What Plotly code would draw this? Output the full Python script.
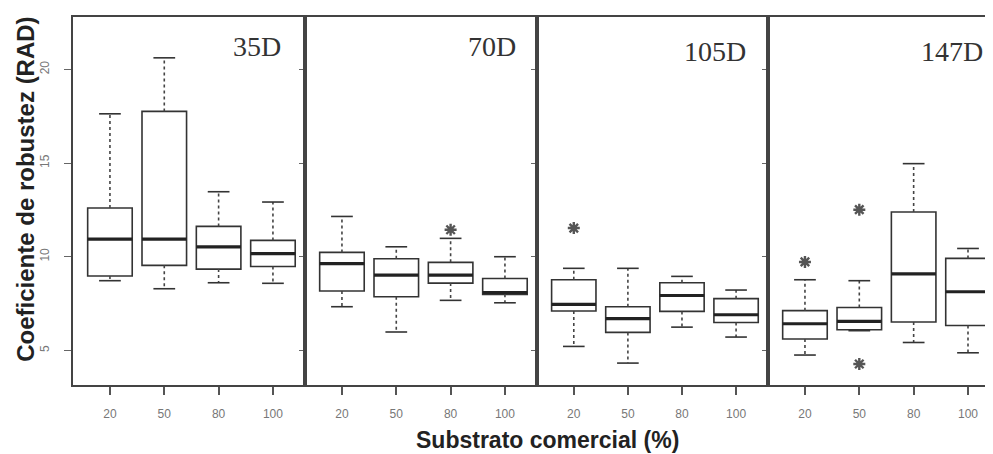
import plotly.graph_objects as go
from plotly.subplots import make_subplots

# ---------------- data ----------------
panels = ["35D", "70D", "105D", "147D"]
categories = ["20", "50", "80", "100"]
positions = [1, 2, 3, 4]

q1 = {
    "35D": [8.97, 9.54, 9.34, 9.48],
    "70D": [8.17, 7.86, 8.59, 7.99],
    "105D": [7.10, 5.96, 7.08, 6.49],
    "147D": [5.61, 6.10, 6.51, 6.33],
}
median = {
    "35D": [10.94, 10.94, 10.53, 10.16],
    "70D": [9.63, 9.02, 9.02, 8.09],
    "105D": [7.45, 6.69, 7.93, 6.90],
    "147D": [6.42, 6.55, 9.08, 8.13],
}
q3 = {
    "35D": [12.60, 17.76, 11.62, 10.87],
    "70D": [10.23, 9.89, 9.70, 8.84],
    "105D": [8.77, 7.33, 8.61, 7.76],
    "147D": [7.12, 7.29, 12.39, 9.91],
}
lower = {
    "35D": [8.72, 8.29, 8.61, 8.58],
    "70D": [7.33, 5.98, 7.67, 7.54],
    "105D": [5.21, 4.32, 6.24, 5.71],
    "147D": [4.75, 6.05, 5.42, 4.87],
}
upper = {
    "35D": [17.63, 20.62, 13.47, 12.92],
    "70D": [12.15, 10.53, 10.98, 10.00],
    "105D": [9.38, 9.38, 8.95, 8.22],
    "147D": [8.77, 8.72, 14.97, 10.44],
}
# outliers: panel, category ("20","50","80","100"), value
outlier_panel = ["70D", "105D", "147D", "147D", "147D"]
outlier_cat = ["80", "20", "20", "50", "50"]
outlier_val = [11.44, 11.53, 9.72, 12.51, 4.27]

y_ticks = [5, 10, 15, 20]
y_title = "Coeficiente de robustez (RAD)"
x_title = "Substrato comercial (%)"

# ---------------- style ----------------
BOX_W = 0.82
CAP_HALF = 0.2
LINE_C = "#333333"
AXIS_C = "#444444"
TICK_FONT = dict(family="Liberation Sans Narrow, Arial Narrow, Liberation Sans, sans-serif",
                 size=12, color="#777777")

fig = make_subplots(rows=1, cols=4, shared_yaxes=True, horizontal_spacing=0,
                    column_widths=[232, 232, 231, 225])

for i, p in enumerate(panels):
    col = i + 1
    # box bodies
    for j, pos in enumerate(positions):
        fig.add_trace(go.Box(
            x=[pos], q1=[q1[p][j]], median=[median[p][j]], q3=[q3[p][j]],
            lowerfence=[q1[p][j]], upperfence=[q3[p][j]],
            width=BOX_W, whiskerwidth=0, fillcolor="white",
            line=dict(color=LINE_C, width=1.6), boxpoints=False,
            showlegend=False, hoverinfo="skip"), row=1, col=col)
    # whiskers (dotted)
    wx, wy = [], []
    for j, pos in enumerate(positions):
        wx += [pos, pos, None, pos, pos, None]
        wy += [q3[p][j], upper[p][j], None, q1[p][j], lower[p][j], None]
    fig.add_trace(go.Scatter(x=wx, y=wy, mode="lines",
                             line=dict(color="#444444", width=1.6, dash="dot"),
                             showlegend=False, hoverinfo="skip"), row=1, col=col)
    # caps
    cx, cy = [], []
    for j, pos in enumerate(positions):
        for v in (upper[p][j], lower[p][j]):
            cx += [pos - CAP_HALF, pos + CAP_HALF, None]
            cy += [v, v, None]
    fig.add_trace(go.Scatter(x=cx, y=cy, mode="lines",
                             line=dict(color=LINE_C, width=1.6),
                             showlegend=False, hoverinfo="skip"), row=1, col=col)
    # medians (thick)
    mx, my = [], []
    for j, pos in enumerate(positions):
        mx += [pos - BOX_W / 2, pos + BOX_W / 2, None]
        my += [median[p][j], median[p][j], None]
    fig.add_trace(go.Scatter(x=mx, y=my, mode="lines",
                             line=dict(color="#222222", width=3.2),
                             showlegend=False, hoverinfo="skip"), row=1, col=col)
    # outliers
    ox = [positions[categories.index(c)] for pp, c in zip(outlier_panel, outlier_cat) if pp == p]
    oy = [v for pp, v in zip(outlier_panel, outlier_val) if pp == p]
    if ox:
        fig.add_trace(go.Scatter(x=ox, y=oy, mode="markers",
                                 marker=dict(symbol="asterisk-open", size=10, color="#555555",
                                             line=dict(color="#555555", width=2.4)),
                                 showlegend=False, hoverinfo="skip"), row=1, col=col)

    xr = [0.32, 4.59] if i < 3 else [0.32, 4.46]
    fig.update_xaxes(range=xr, tickmode="array", tickvals=positions, ticktext=categories,
                     showline=True, linecolor=AXIS_C, linewidth=2, mirror=True,
                     ticks="outside", ticklen=8, tickwidth=1.5, tickcolor="#555555",
                     tickfont=TICK_FONT, ticklabelstandoff=9,
                     showgrid=False, zeroline=False, row=1, col=col)
    fig.update_yaxes(range=[3.15, 22.8], tickmode="array", tickvals=y_ticks,
                     showline=True, linecolor=AXIS_C, linewidth=2,
                     mirror=(i < 3), ticks="outside",
                     ticklen=7 if i == 0 else 4, tickwidth=1, tickcolor="#666666",
                     showticklabels=(i == 0), tickangle=-90, tickfont=TICK_FONT,
                     ticklabelstandoff=10,
                     showgrid=False, zeroline=False, row=1, col=col)

# panel labels
label_x = [0.793, 0.806, 0.77, 0.82]
label_y = [0.92, 0.92, 0.906, 0.906]
for i, p in enumerate(panels):
    xref = "x domain" if i == 0 else f"x{i+1} domain"
    fig.add_annotation(text=p, x=label_x[i], y=label_y[i], xref=xref, yref="paper",
                       showarrow=False, xanchor="center", yanchor="middle",
                       font=dict(family="Liberation Serif, Times New Roman, serif",
                                 size=28, color="#333333"))

# axis titles
fig.add_annotation(text=f"<b>{y_title}</b>", x=-0.052, y=0.531, xref="paper", yref="paper",
                   textangle=-90, showarrow=False, xanchor="center", yanchor="middle",
                   font=dict(family="Liberation Sans, Arial, sans-serif", size=24, color="#222222"))
fig.add_annotation(text=f"<b>{x_title}</b>", x=0.516, y=-0.150, xref="paper", yref="paper",
                   showarrow=False, xanchor="center", yanchor="middle",
                   font=dict(family="Liberation Sans, Arial, sans-serif", size=23, color="#222222"))

fig.update_layout(width=993, height=454, margin=dict(l=65, r=8, t=9, b=77),
                  paper_bgcolor="white", plot_bgcolor="white", showlegend=False,
                  boxmode="overlay")

fig.write_html("out.html")
